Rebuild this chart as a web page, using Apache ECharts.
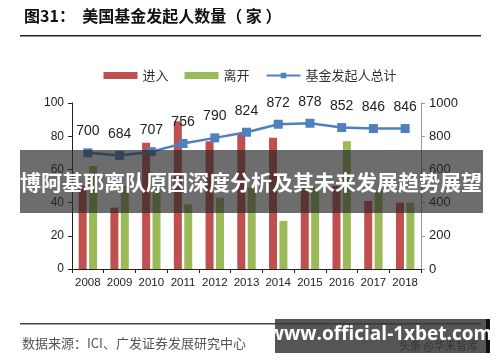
<!DOCTYPE html>
<html>
<head>
<meta charset="utf-8">
<script src="https://cdn.jsdelivr.net/npm/echarts@6/dist/echarts.min.js"></script>
<style>
html,body{margin:0;padding:0;background:#fff;}
#c{width:500px;height:362px;}
</style>
</head>
<body>
<div id="c"></div>
<script>
var years = ['2008','2009','2010','2011','2012','2013','2014','2015','2016','2017','2018'];
var enterVals = [50, 37, 76, 89, 77, 82, 79, 49, 50, 41, 40];
var exitVals = [62, 50, 48, 39, 43, 49, 29, 49, 77, 48, 40];
var totalVals = [700, 684, 707, 756, 790, 824, 872, 878, 852, 846, 846];
var seriesNames = ['进入', '离开', '基金发起人总计'];

var chart = echarts.init(document.getElementById('c'));
var font = 'Liberation Sans, Arial, sans-serif';
var cjk = '"Noto Sans CJK SC", sans-serif';
chart.setOption({
  animation: false,
  backgroundColor: '#fff',
  legend: {
    top: 64,
    left: 'center',
    itemWidth: 34,
    itemHeight: 7,
    itemGap: 16,
    textStyle: {fontFamily: cjk, fontSize: 13, color: '#333'},
    data: [
      {name: seriesNames[0], icon: 'rect'},
      {name: seriesNames[1], icon: 'rect'},
      {name: seriesNames[2]}
    ]
  },
  grid: {left: 72, right: 79, top: 103, bottom: 93},
  xAxis: {
    type: 'category',
    data: years,
    axisLine: {lineStyle: {color: '#222', width: 1}},
    axisTick: {show: true, interval: 0, lineStyle: {color: '#222'}, length: 4},
    axisLabel: {interval: 0, fontFamily: font, fontSize: 11.5, color: '#222', margin: 8}
  },
  yAxis: [
    {
      type: 'value', min: 0, max: 100, interval: 20,
      axisLine: {show: true, lineStyle: {color: '#222'}},
      axisTick: {show: true, lineStyle: {color: '#222'}, length: 4},
      splitLine: {show: false},
      axisLabel: {fontFamily: font, fontSize: 12, color: '#222', margin: 8}
    },
    {
      type: 'value', min: 0, max: 1000, interval: 200,
      axisLine: {show: true, lineStyle: {color: '#999'}},
      axisTick: {show: true, lineStyle: {color: '#999'}, length: 4},
      splitLine: {show: false},
      axisLabel: {fontFamily: font, fontSize: 13, color: '#222', margin: 8,
                  formatter: function (v) { return String(v); }}
    }
  ],
  series: [
    {
      name: seriesNames[0], type: 'bar', data: enterVals, yAxisIndex: 0,
      barWidth: 8, barGap: '30%',
      itemStyle: {color: '#C0504D'}
    },
    {
      name: seriesNames[1], type: 'bar', data: exitVals, yAxisIndex: 0,
      barWidth: 8,
      itemStyle: {color: '#9BBB59'}
    },
    {
      name: seriesNames[2], type: 'line', data: totalVals, yAxisIndex: 1,
      symbol: 'rect', symbolSize: 9,
      lineStyle: {color: '#4F81BD', width: 2.5},
      itemStyle: {color: '#4F81BD'},
      label: {show: true, position: 'top', distance: 10, fontFamily: font, fontSize: 14, color: '#222'},
      z: 5
    }
  ],
  graphic: [
    {type: 'text', left: 24, top: 8, z: 50,
     style: {text: '图31：  美国基金发起人数量（ 家 ）', font: 'bold 16px "Noto Sans CJK SC", sans-serif', fill: '#111'}},
    {type: 'rect', shape: {x: 20, y: 35, width: 461, height: 1.5}, style: {fill: '#222'}, z: 50},
    {type: 'rect', shape: {x: 20, y: 323, width: 461, height: 1.5}, style: {fill: '#444'}, z: 50},
    {type: 'text', left: 22, top: 337, z: 50,
     style: {text: '数据来源：ICI、广发证券发展研究中心', font: '13px "Noto Sans CJK SC", sans-serif', fill: '#555'}},
    {type: 'rect', shape: {x: 20, y: 150, width: 463, height: 63}, style: {fill: 'rgba(40,40,40,0.68)'}, z: 100},
    {type: 'text', x: 251, y: 182, z: 101,
     style: {text: '博阿基耶离队原因深度分析及其未来发展趋势展望', font: 'bold 21px "Noto Sans CJK SC", sans-serif', fill: '#fff', textAlign: 'center', textVerticalAlign: 'middle'}},
    {type: 'rect', shape: {x: 275, y: 319, width: 212, height: 34}, style: {fill: 'rgba(55,55,55,0.85)'}, z: 100},
    {type: 'rect', shape: {x: 486, y: 319, width: 4, height: 34}, style: {fill: '#111'}, z: 100},
    {type: 'text', x: 478, y: 346, z: 101,
     style: {text: '头条 @华来智库', font: '11px "Noto Sans CJK SC", sans-serif', fill: 'rgba(30,30,30,0.6)', textAlign: 'right', textVerticalAlign: 'middle'}},
    {type: 'text', x: 380, y: 335, z: 102,
     style: {text: 'www.official-1xbet.com', font: 'bold 19px "Open Sans", "DejaVu Sans", sans-serif', fill: '#fff', textAlign: 'center', textVerticalAlign: 'middle'}}
  ]
});
</script>
</body>
</html>
